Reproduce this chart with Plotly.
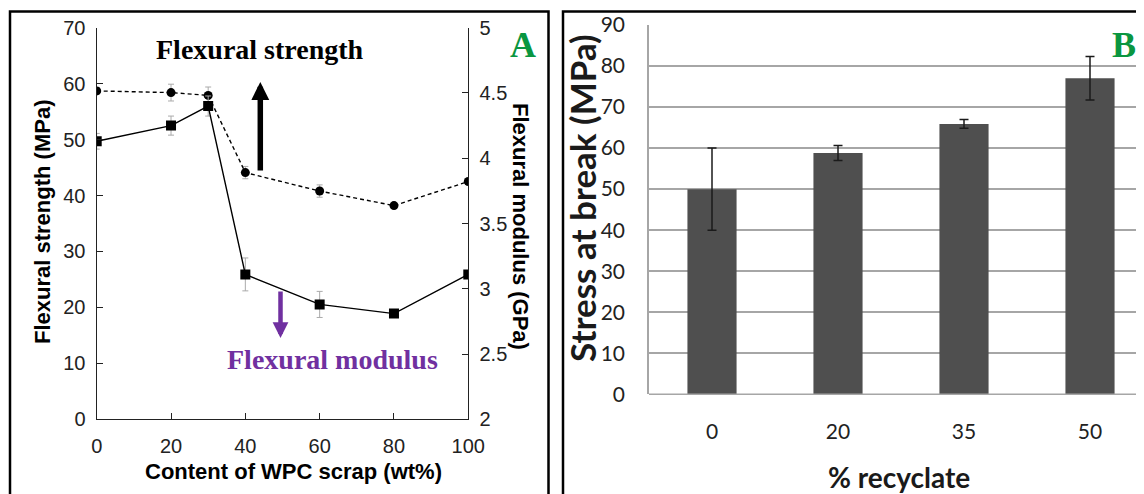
import plotly.graph_objects as go

# ---------------- data ----------------
wpc_content = [0, 20, 30, 40, 60, 80, 100]
flex_strength = [58.7, 58.4, 57.9, 44.1, 40.8, 38.2, 42.5]          # MPa (left axis)
flex_strength_err = [0.6, 1.5, 1.5, 1.1, 1.1, 0.5, 0.5]
flex_modulus = [4.13, 4.25, 4.40, 3.11, 2.88, 2.81, 3.11]           # GPa (right axis)
flex_modulus_err = [0.06, 0.073, 0.077, 0.126, 0.10, 0.02, 0.02]

recyclate = ["0", "20", "35", "50"]
stress_break = [50.0, 58.8, 65.9, 77.0]
stress_break_err = [10.0, 1.85, 1.05, 5.3]

# page body has an 8px margin: figure occupies screen pixels 8..1144 x 8..494
OFF = 8
W, H = 1144 - OFF, 494 - OFF
def px(x):
    return (x - OFF) / W
def py(y):
    return 1 - (y - OFF) / H

fig = go.Figure()

# ---------------- panel A ----------------
fig.add_trace(go.Scatter(
    x=wpc_content, y=flex_strength, xaxis="x", yaxis="y",
    mode="lines+markers",
    line=dict(color="black", width=1.4, dash="4px,3px"),
    marker=dict(symbol="circle", size=9, color="black"),
    error_y=dict(type="data", array=flex_strength_err, color="#aaaaaa", thickness=1, width=3),
    showlegend=False))
fig.add_trace(go.Scatter(
    x=wpc_content, y=flex_modulus, xaxis="x", yaxis="y2",
    mode="lines+markers",
    line=dict(color="black", width=1.4),
    marker=dict(symbol="square", size=10, color="black"),
    error_y=dict(type="data", array=flex_modulus_err, color="#aaaaaa", thickness=1, width=3),
    showlegend=False))

# ---------------- panel B ----------------
fig.add_trace(go.Bar(
    x=recyclate, y=stress_break, xaxis="x3", yaxis="y3",
    width=0.39, marker=dict(color="#4f4f4f", line=dict(width=0)),
    error_y=dict(type="data", array=stress_break_err, color="#1a1a1a", thickness=1.5, width=4.5),
    showlegend=False))

tickA = dict(family="Liberation Sans, Arial, sans-serif", size=20, color="#222222")
tickB = dict(family="Lato, sans-serif", size=21, color="#222222")

B_left, B_first = 649, 712
fig.update_layout(
    width=W, height=H,
    margin=dict(l=0, r=0, t=0, b=0, autoexpand=False),
    paper_bgcolor="white", plot_bgcolor="rgba(0,0,0,0)",
    xaxis=dict(domain=[px(96.7), px(468.3)], range=[0, 100], tickvals=[0, 20, 40, 60, 80, 100],
               ticks="inside", ticklen=6, tickwidth=1.2, tickcolor="#222",
               showline=True, linecolor="#222", linewidth=1.4, mirror=False,
               showgrid=False, zeroline=False, tickfont=tickA, ticklabelstandoff=8,
               anchor="y", automargin=False),
    yaxis=dict(domain=[py(419.3), py(27.7)], range=[0, 70], dtick=10,
               ticks="inside", ticklen=6, tickwidth=1.2, tickcolor="#222",
               showline=True, linecolor="#222", linewidth=1.4,
               showgrid=False, zeroline=False, tickfont=tickA, ticklabelstandoff=6,
               anchor="x", automargin=False),
    yaxis2=dict(range=[2, 5], dtick=0.5, overlaying="y", side="right",
                ticks="inside", ticklen=6, tickwidth=1.2, tickcolor="#222",
                showline=True, linecolor="#222", linewidth=1.4,
                showgrid=False, zeroline=False, tickfont=tickA, ticklabelstandoff=6,
                anchor="x", automargin=False),
    xaxis3=dict(domain=[px(B_left), 1.0], range=[-0.5, (1144 - B_first) / 126], type="category",
                ticks="", showline=False, showgrid=False, zeroline=False,
                tickfont=tickB, ticklabelstandoff=23, anchor="y3", automargin=False),
    yaxis3=dict(domain=[py(394.3), py(25)], range=[0, 90], dtick=10,
                ticks="", showline=True, linecolor="#a6a6a6", linewidth=1.5,
                showgrid=True, gridcolor="#a6a6a6", gridwidth=1.5, zeroline=False,
                tickfont=tickB, ticklabelstandoff=18, anchor="x3", automargin=False),
    shapes=[
        dict(type="rect", xref="paper", yref="paper", x0=px(10), x1=px(548.5), y0=-0.1, y1=py(11.5),
             line=dict(color="black", width=2.5)),
        dict(type="rect", xref="paper", yref="paper", x0=px(563), x1=1.1, y0=-0.1, y1=py(11.5),
             line=dict(color="black", width=2.5)),
        dict(type="line", xref="paper", yref="paper", x0=px(B_left), x1=1.0, y0=py(394.3), y1=py(394.3),
             line=dict(color="#a6a6a6", width=1.5)),
    ],
)

serif = "Liberation Serif, Times New Roman, serif"
sansA = "Liberation Sans, Arial, sans-serif"
C = dict(xref="paper", yref="paper", xanchor="center", yanchor="middle")
ann = []
# axis titles panel A
ann.append(dict(text="<b>Flexural strength (MPa)</b>", x=px(42), y=py(222), **C,
                textangle=-90, showarrow=False, font=dict(family=sansA, size=22, color="black")))
ann.append(dict(text="<b>Flexural modulus (GPa)</b>", x=px(521), y=py(226), **C,
                textangle=90, showarrow=False, font=dict(family=sansA, size=22, color="black")))
ann.append(dict(text="<b>Content of WPC scrap (wt%)</b>", x=px(293), y=py(471), **C,
                showarrow=False, font=dict(family=sansA, size=22, color="black")))
# labels panel A
ann.append(dict(text="<b>Flexural strength</b>", x=px(260), y=py(50), **C,
                showarrow=False, font=dict(family=serif, size=28, color="black")))
ann.append(dict(text="<b>Flexural modulus</b>", x=px(332), y=py(359), **C,
                showarrow=False, font=dict(family=serif, size=28, color="#7030a0")))
ann.append(dict(text="<b>A</b>", x=px(523), y=py(45), **C,
                showarrow=False, font=dict(family=serif, size=36, color="#0a9640")))
# arrows
ann.append(dict(text="", x=px(260.3), y=py(82), xref="paper", yref="paper", ax=0, ay=90,
                showarrow=True, arrowhead=2, arrowsize=0.65, arrowwidth=5.5, arrowcolor="black"))
ann.append(dict(text="", x=px(280.5), y=py(338), xref="paper", yref="paper", ax=0, ay=-48,
                showarrow=True, arrowhead=2, arrowsize=0.7, arrowwidth=4.5, arrowcolor="#7030a0"))
# panel B titles
ann.append(dict(text="<b>Stress at break (MPa)</b>", x=px(582), y=py(198), **C,
                textangle=-90, showarrow=False, font=dict(family="Lato, sans-serif", size=35, color="#1a1a1a")))
ann.append(dict(text="<b>% recyclate</b>", x=px(899), y=py(477), **C,
                showarrow=False, font=dict(family="Lato, sans-serif", size=28, color="#1a1a1a")))
ann.append(dict(text="<b>B</b>", x=px(1124), y=py(45), **C,
                showarrow=False, font=dict(family=serif, size=36, color="#0a9640")))
fig.update_layout(annotations=ann)

fig.write_html("out.html")
